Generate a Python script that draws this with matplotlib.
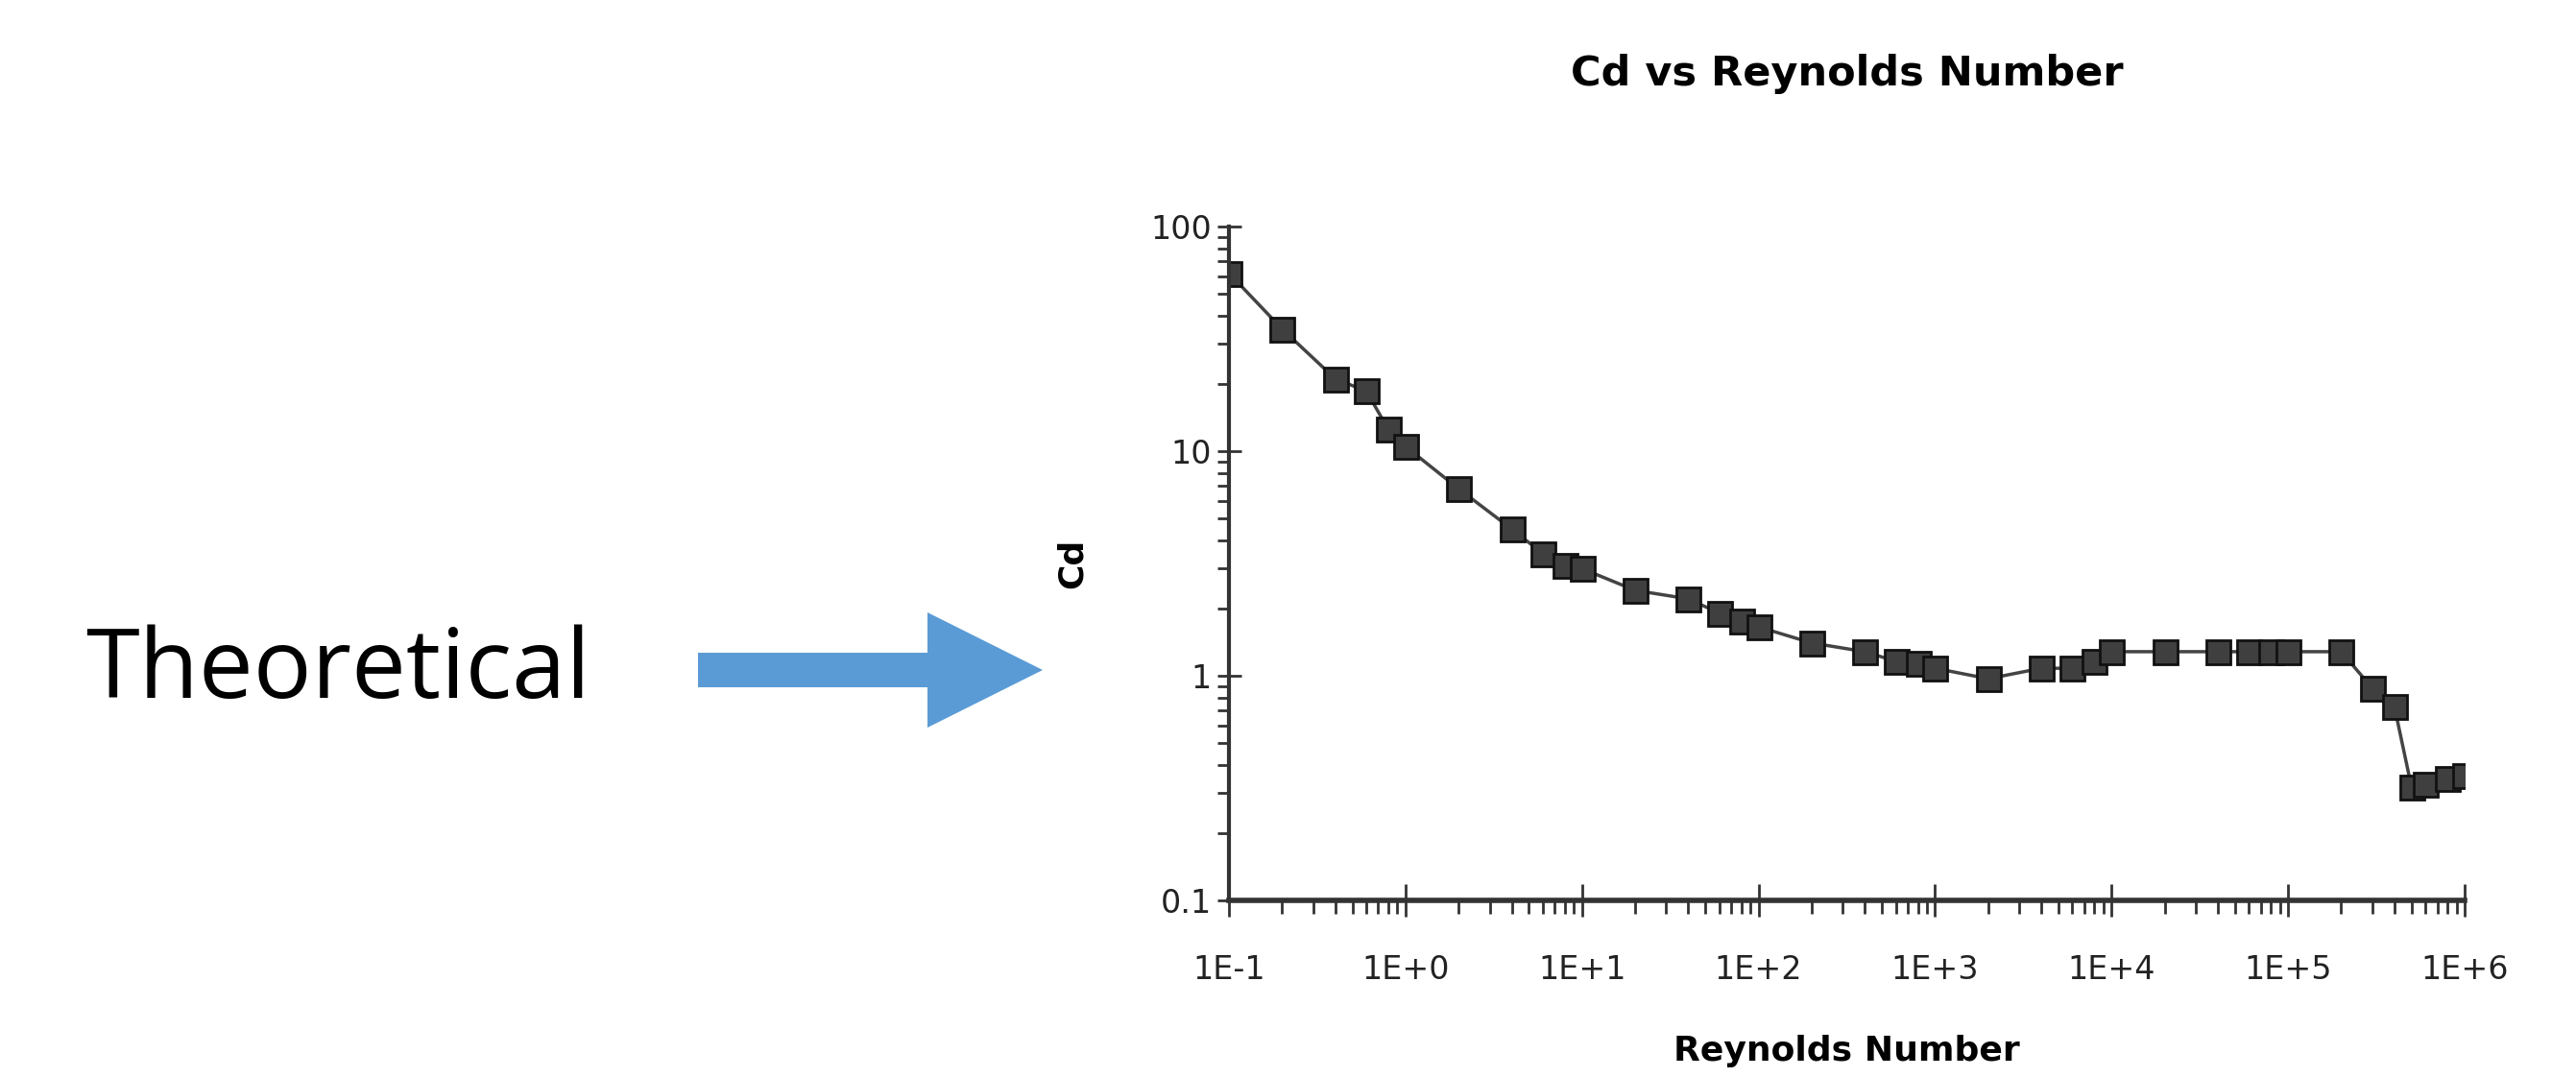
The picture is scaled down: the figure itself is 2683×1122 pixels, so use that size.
import matplotlib
matplotlib.use("Agg")
import matplotlib.pyplot as plt
from matplotlib.patches import FancyArrow

# Data
reynolds = [0.1, 0.2, 0.4, 0.6, 0.8, 1, 2, 4, 6, 8, 10, 20, 40, 60, 80, 100,
            200, 400, 600, 800, 1000, 2000, 4000, 6000, 8000, 1e4, 2e4, 4e4,
            6e4, 8e4, 1e5, 2e5, 3e5, 4e5, 5e5, 6e5, 8e5, 1e6]
cd = [62, 35, 21, 18.5, 12.5, 10.5, 6.8, 4.5, 3.5, 3.1, 3.0, 2.4, 2.2, 1.9,
      1.75, 1.65, 1.4, 1.28, 1.16, 1.14, 1.08, 0.97, 1.08, 1.08, 1.16, 1.28,
      1.28, 1.28, 1.28, 1.28, 1.28, 1.28, 0.88, 0.73, 0.32, 0.33, 0.35, 0.36]

xtick_vals = [1e-1, 1e0, 1e1, 1e2, 1e3, 1e4, 1e5, 1e6]
xtick_labels = ["1E-1", "1E+0", "1E+1", "1E+2", "1E+3", "1E+4", "1E+5", "1E+6"]
ytick_vals = [0.1, 1, 10, 100]
ytick_labels = ["0.1", "1", "10", "100"]

W, H = 2683, 1122
fig = plt.figure(figsize=(W / 100, H / 100), dpi=100)

# overlay in pixel coordinates for the annotation
over = fig.add_axes([0, 0, 1, 1])
over.set_xlim(0, W)
over.set_ylim(H, 0)
over.axis("off")
over.text(89, 701, "Theoretical", fontsize=73, family=["Open Sans", "DejaVu Sans"],
          va="center", ha="left", color="black")
over.add_patch(FancyArrow(727, 698, 359, 0, width=36, head_width=120,
                          head_length=120, length_includes_head=True,
                          color="#5B9BD5", lw=0))

# main chart
ax = fig.add_axes([1280 / W, 184 / H, 1287 / W, 702 / H])
ax.plot(reynolds, cd, color="#444444", lw=2.5, marker="s", markersize=18,
        markerfacecolor="#3f3f3f", markeredgecolor="#111111", markeredgewidth=2)
ax.set_xscale("log")
ax.set_yscale("log")
ax.set_xlim(0.1, 1e6)
ax.set_ylim(0.1, 100)

pixfont = ["DejaVu Sans"]
ax.set_xticks(xtick_vals)
ax.set_xticklabels(xtick_labels, family=pixfont, fontsize=24, color="#222222")
ax.set_yticks(ytick_vals)
ax.set_yticklabels(ytick_labels, family=pixfont, fontsize=24, color="#222222")

ax.spines["top"].set_visible(False)
ax.spines["right"].set_visible(False)
ax.spines["bottom"].set_linewidth(4)
ax.spines["left"].set_linewidth(3)
ax.spines["bottom"].set_color("#333333")
ax.spines["left"].set_color("#333333")

ax.tick_params(axis="x", which="major", direction="inout", length=24, width=2, pad=28)
ax.tick_params(axis="x", which="minor", direction="out", length=10, width=2)
ax.tick_params(axis="y", which="major", direction="inout", length=18, width=2, pad=4)
ax.tick_params(axis="y", which="minor", direction="out", length=9, width=2)
ax.tick_params(which="both", color="#333333")

ax.set_xlabel("Reynolds Number", family=pixfont, fontsize=26, fontweight="bold")
ax.xaxis.set_label_coords(0.5, -0.224)
ax.xaxis.label.set_va("center")
ax.set_ylabel("Cd", family=pixfont, fontsize=26, fontweight="bold")
ax.yaxis.set_label_coords(-0.127, 0.5)
ax.yaxis.label.set_va("center")

fig.text(0.5 * (1280 + 2567) / W, 1 - 77 / H, "Cd vs Reynolds Number",
         family=pixfont, fontsize=31, fontweight="bold", ha="center", va="center")

fig.savefig("out.png", dpi=100)
